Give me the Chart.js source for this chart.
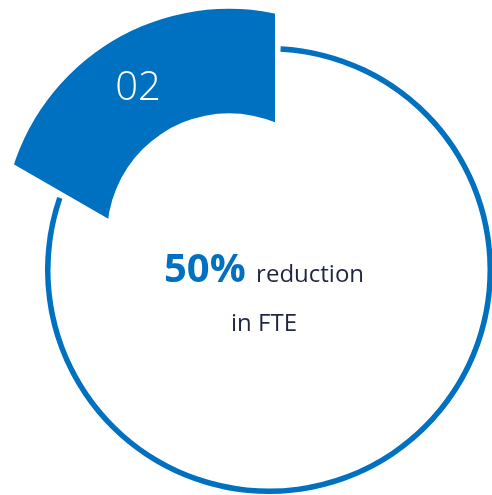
<!DOCTYPE html>
<html>
<head>
<meta charset="utf-8">
<script src="https://cdn.jsdelivr.net/npm/chart.js@4/dist/chart.umd.min.js"></script>
<style>
  html, body { margin: 0; padding: 0; background: #fff; }
  #stage { position: relative; width: 492px; height: 495px; overflow: hidden; font-family: 'Open Sans', 'Noto Sans', sans-serif; }
  canvas { position: absolute; }
  #track { left: 45px; top: 46px; }
  #slice { left: -55px; top: -15px; }
  .label { position: absolute; white-space: nowrap; }
  #num { left: 88px; width: 100px; top: 65px; text-align: center; color: #fff; font-size: 40px; font-weight: 300; line-height: 40px; }
  #line1 { left: 114px; width: 300px; top: 247px; text-align: center; color: #1f2642; font-size: 40px; line-height: 40px; }
  #line1 b { color: #0070c0; font-weight: 700; }
  #line1 span { font-size: 24px; }
  #line2 { left: 114px; width: 300px; top: 310px; text-align: center; color: #1f2642; font-size: 24px; line-height: 24px; }
</style>
</head>
<body>
<div id="stage">
  <canvas id="track" width="448" height="448"></canvas>
  <canvas id="slice" width="660" height="660"></canvas>
  <div class="label" id="num">02</div>
  <div class="label" id="line1"><b>50% </b><span>reduction</span></div>
  <div class="label" id="line2">in FTE</div>
</div>
<script>
// ── data ─────────────────────────────────────────────────────────────────
const sliceLabels = ['02', 'rest'];
const sliceShare  = [1, 5];        // highlighted step = one sixth of the ring
const trackLabels = ['track', 'gap'];
const trackShare  = [286, 74];     // degrees: thin ring, open where the step sits

const BLUE = '#0070c0';

const baseOpts = {
  responsive: false,
  animation: false,
  events: [],
  layout: { padding: 0 },
  plugins: { legend: { display: false }, tooltip: { enabled: false } },
};

// thin outline ring
new Chart(document.getElementById('track'), {
  type: 'doughnut',
  data: {
    labels: trackLabels,
    datasets: [{
      data: trackShare,
      backgroundColor: [BLUE, 'rgba(0,0,0,0)'],
      borderWidth: 0,
      hoverOffset: 0,
    }],
  },
  options: { ...baseOpts, cutout: 218.5, rotation: 3 },
});

// The step slice: radial edges come from the doughnut, the curved edges are
// re-cut on a circle pushed out along the slice's mid angle.
const ringClip = {
  id: 'ringClip',
  beforeDatasetDraw(chart, args, opts) {
    const arc = chart.getDatasetMeta(0).data[0];
    const mid = (arc.startAngle + arc.endAngle) / 2;
    const cx = arc.x + Math.cos(mid) * opts.shift;
    const cy = arc.y + Math.sin(mid) * opts.shift;
    const ctx = chart.ctx;
    ctx.save();
    ctx.beginPath();
    ctx.arc(cx, cy, opts.outer, 0, Math.PI * 2);
    ctx.moveTo(cx + opts.inner, cy);
    ctx.arc(cx, cy, opts.inner, 0, Math.PI * 2, true);
    ctx.clip();
  },
  afterDatasetDraw(chart) {
    chart.ctx.restore();
  },
};

new Chart(document.getElementById('slice'), {
  type: 'doughnut',
  data: {
    labels: sliceLabels,
    datasets: [{
      data: sliceShare,
      backgroundColor: [BLUE, 'rgba(0,0,0,0)'],
      borderWidth: 0,
      hoverOffset: 0,
    }],
  },
  options: {
    ...baseOpts,
    cutout: 175,
    rotation: -60,
    plugins: { ...baseOpts.plugins, ringClip: { shift: 92, outer: 226.5, inner: 122 } },
  },
  plugins: [ringClip],
});
</script>
</body>
</html>
